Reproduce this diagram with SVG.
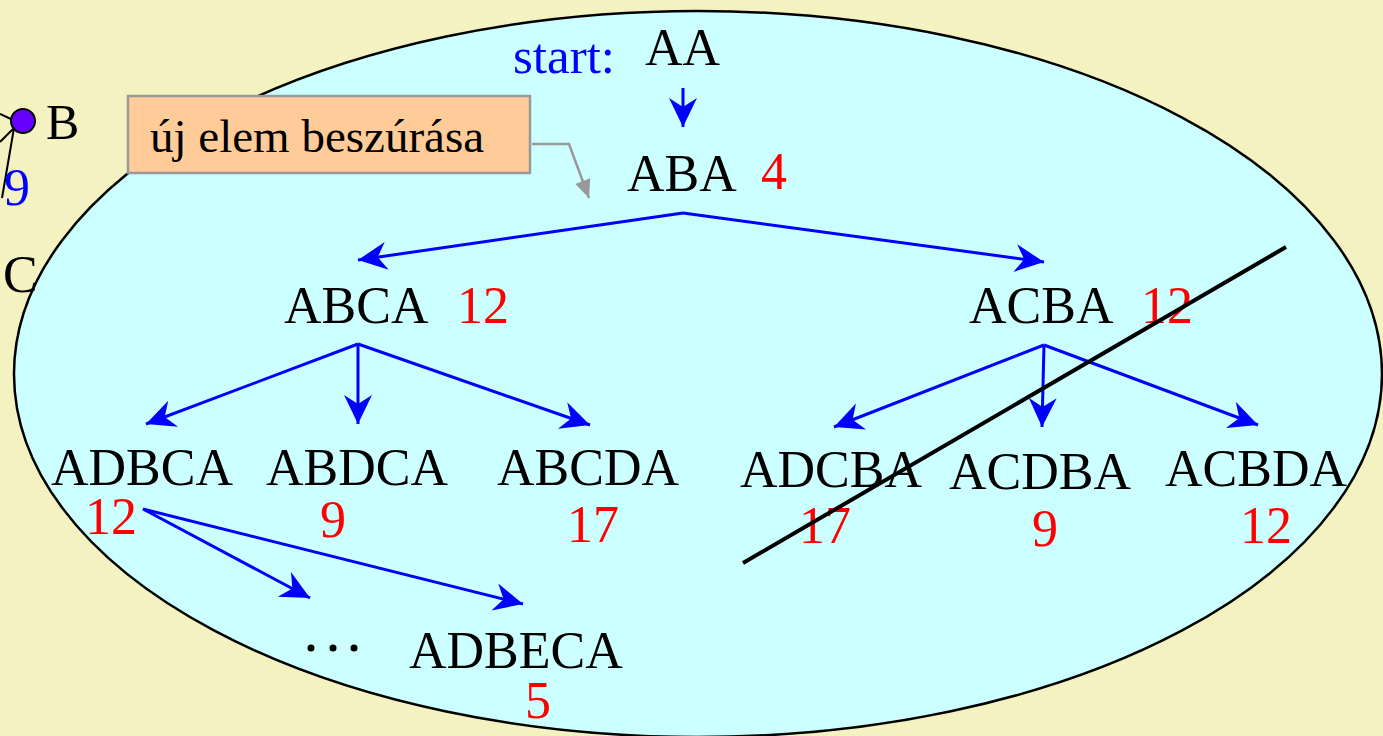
<svg xmlns="http://www.w3.org/2000/svg" width="1383" height="736" viewBox="0 0 1383 736">
<style>
.t{font-family:"Liberation Serif","Times New Roman",serif;font-size:52px;fill:#000}
.r{fill:#FF0000}
.b{fill:#0000FF}
.e{stroke:#0000FF;stroke-width:3;fill:none;marker-end:url(#ah)}
</style>
<defs>
<marker id="ah" viewBox="-32 -16 34 32" markerWidth="34" markerHeight="32" refX="0" refY="0" orient="auto" markerUnits="userSpaceOnUse">
<path d="M0,0 L-29,-14 L-20,0 L-29,14 Z" fill="#0000FF"/>
</marker>
<marker id="gh" viewBox="-20 -9 22 18" markerWidth="22" markerHeight="18" refX="0" refY="0" orient="auto" markerUnits="userSpaceOnUse">
<path d="M0,0 L-18,-8 L-18,8 Z" fill="#999999"/>
</marker>
</defs>
<rect x="0" y="0" width="1383" height="736" fill="#F4F2C1"/>
<ellipse cx="698" cy="374" rx="684" ry="363" fill="#CCFFFF" stroke="#000" stroke-width="2.5"/>

<g id="graph-fragment">
<line x1="0" y1="114" x2="13" y2="120" stroke="#000" stroke-width="2"/>
<line x1="0" y1="142" x2="13" y2="129" stroke="#000" stroke-width="2"/>
<line x1="14" y1="128" x2="2" y2="198" stroke="#000" stroke-width="2"/>
<circle cx="23" cy="121" r="12" fill="#6600FF" stroke="#000" stroke-width="2"/>
<text class="t" x="46" y="139" style="font-size:50px">B</text>
<text class="t b" x="4" y="205">9</text>
<text class="t" x="3" y="292" style="font-size:52px">C</text>
</g>

<g id="connectors">
<line class="e" x1="683" y1="88" x2="683" y2="127" stroke-width="2"/>
<line class="e" x1="683" y1="213" x2="358" y2="260"/>
<line class="e" x1="683" y1="213" x2="1044" y2="262"/>
<line class="e" x1="358" y1="344" x2="146" y2="424"/>
<line class="e" x1="358" y1="344" x2="358" y2="424"/>
<line class="e" x1="358" y1="344" x2="590" y2="425"/>
<line class="e" x1="1044" y1="345" x2="834" y2="427" stroke-width="2.5"/>
<line class="e" x1="1044" y1="345" x2="1042" y2="427" stroke-width="2.5"/>
<line class="e" x1="1044" y1="345" x2="1258" y2="425" stroke-width="2.5"/>
<line class="e" x1="143" y1="509" x2="310" y2="598"/>
<line class="e" x1="143" y1="509" x2="523" y2="604"/>
<polyline points="532,144 569,144 589,198" fill="none" stroke="#999999" stroke-width="2.5" marker-end="url(#gh)"/>
</g>

<g id="node-start">
<text class="t b" x="513" y="73" style="font-size:51px">start:</text>
<text class="t" x="645" y="65">AA</text>
</g>
<g id="node-ABA"><text class="t" x="627" y="191">ABA</text><text class="t r" x="761" y="189">4</text></g>
<g id="node-ABCA"><text class="t" x="284" y="323">ABCA</text><text class="t r" x="457" y="323">12</text></g>
<g id="node-ACBA"><text class="t" x="969" y="323">ACBA</text><text class="t r" x="1141" y="323">12</text></g>
<g id="node-ADBCA"><text class="t" x="51" y="485">ADBCA</text><text class="t r" x="85" y="534">12</text></g>
<g id="node-ABDCA"><text class="t" x="266" y="485">ABDCA</text><text class="t r" x="320" y="537">9</text></g>
<g id="node-ABCDA"><text class="t" x="497" y="485">ABCDA</text><text class="t r" x="567" y="542">17</text></g>
<g id="node-ADCBA"><text class="t" x="740" y="487">ADCBA</text><text class="t r" x="799" y="543">17</text></g>
<g id="node-ACDBA"><text class="t" x="949" y="489">ACDBA</text><text class="t r" x="1032" y="546">9</text></g>
<g id="node-ACBDA"><text class="t" x="1165" y="486">ACBDA</text><text class="t r" x="1240" y="543">12</text></g>
<g id="node-dots">
<circle cx="311" cy="648" r="3.5"/><circle cx="333" cy="648" r="3.5"/><circle cx="354" cy="648" r="3.5"/>
</g>
<g id="node-ADBECA"><text class="t" x="409" y="668">ADBECA</text><text class="t r" x="525" y="718">5</text></g>

<line id="cross" x1="743" y1="563" x2="1286" y2="247" stroke="#000" stroke-width="4"/>

<g id="callout">
<rect x="128" y="96" width="402" height="77" fill="#FFCC99" stroke="#999999" stroke-width="2.5"/>
<text class="t" x="150" y="152" style="font-size:47px">új elem beszúrása</text>
</g>
</svg>
